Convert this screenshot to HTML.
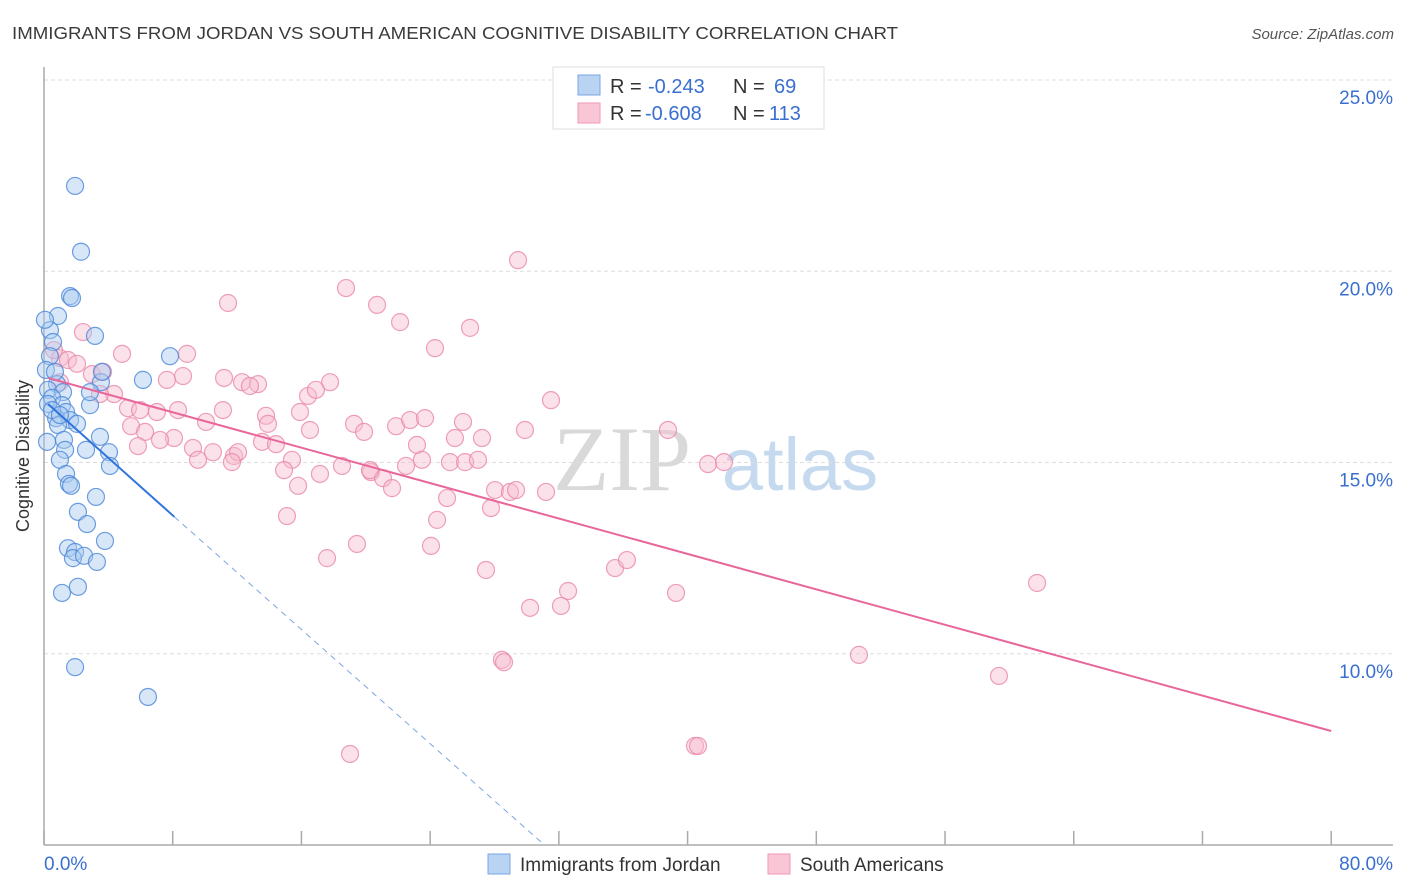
<!DOCTYPE html>
<html><head><meta charset="utf-8"><style>
body{margin:0;background:#fff;font-family:"Liberation Sans",sans-serif}
svg{display:block}
</style></head><body>
<svg id="c" width="1406" height="892">
<text x="12" y="39" font-size="17.5" fill="#3a3a3a" textLength="886" lengthAdjust="spacingAndGlyphs">IMMIGRANTS FROM JORDAN VS SOUTH AMERICAN COGNITIVE DISABILITY CORRELATION CHART</text>
<text x="1394" y="39" font-size="15" fill="#555" font-style="italic" text-anchor="end">Source: ZipAtlas.com</text>
<text x="29" y="456" font-size="18" fill="#333" text-anchor="middle" transform="rotate(-90 29 456)">Cognitive Disability</text>
<g>
<text x="622" y="490" font-size="92" fill="#d9d9d9" font-family="Liberation Serif,serif" text-anchor="middle">ZIP</text>
<text x="800" y="490" font-size="74" fill="#c5d9ef" text-anchor="middle">atlas</text>
</g>
<g id="grid"></g><g id="axes"></g><g id="marks"></g>
<g>
<rect x="553" y="67" width="271" height="62" fill="#fff" stroke="#ddd"/>
<rect x="578" y="75" width="22" height="20" fill="#b9d3f3" stroke="#7aa6e0"/>
<rect x="578" y="103" width="22" height="20" fill="#f9c6d6" stroke="#ee9ab6"/>
<g font-size="20">
<text x="610" y="93" fill="#333">R =</text><text x="648" y="93" fill="#3a6fd0">-0.243</text>
<text x="733" y="93" fill="#333">N =</text><text x="774" y="93" fill="#3a6fd0">69</text></g>
<g font-size="20">
<text x="610" y="120" fill="#333">R =</text><text x="645" y="120" fill="#3a6fd0">-0.608</text>
<text x="733" y="120" fill="#333">N =</text><text x="769" y="120" fill="#3a6fd0">113</text></g>
</g>
<g>
<rect x="488" y="854" width="22" height="20" fill="#b9d3f3" stroke="#7aa6e0"/>
<text x="520" y="871" font-size="19" fill="#333">Immigrants from Jordan</text>
<rect x="768" y="854" width="22" height="20" fill="#f9c6d6" stroke="#ee9ab6"/>
<text x="800" y="871" font-size="19" fill="#333">South Americans</text>
</g>
</svg>
<script>
const yTicks=[10,15,20,25];
const yTickLabels=["10.0%","15.0%","20.0%","25.0%"];
const xTickLabels=["0.0%","80.0%"];
const blueX=[1.93,2.30,1.62,1.74,0.87,0.37,3.17,0.56,7.83,6.15,3.54,0.81,0.25,1.18,0.5,2.86,1.12,1.37,0.75,1.62,2.05,0.87,3.48,1.24,0.19,1.31,2.61,4.04,0.99,4.10,1.37,1.55,1.68,3.23,2.11,2.67,3.79,1.49,1.93,1.80,2.49,3.29,1.12,2.11,1.93,6.46,0.06,0.37,0.12,0.68,3.60,2.86,0.25,0.5,0.99];
const blueY=[22.23,20.51,19.35,19.30,18.83,18.46,18.31,18.15,17.78,17.16,17.10,17.05,16.90,16.84,16.69,16.50,16.50,16.32,16.16,16.11,16.01,15.98,15.67,15.59,15.54,15.33,15.33,15.27,15.07,14.91,14.70,14.44,14.39,14.10,13.71,13.39,12.95,12.76,12.66,12.50,12.56,12.40,11.59,11.75,9.65,8.87,18.73,17.78,17.42,17.37,17.37,16.84,16.53,16.37,16.24];
const pinkX=[11.44,18.77,20.70,22.13,26.48,29.46,24.30,2.42,4.85,8.89,0.99,1.49,2.98,3.67,4.35,5.22,7.64,8.64,11.19,12.31,13.30,12.80,16.41,16.90,17.78,11.12,10.07,7.02,8.33,13.80,13.92,19.27,19.89,21.88,22.75,23.68,26.04,31.51,29.89,38.78,15.91,16.53,5.41,6.28,8.08,9.26,9.57,10.50,11.81,12.06,13.55,14.42,15.41,14.92,17.15,18.52,20.32,21.07,22.50,23.18,23.49,25.23,26.17,26.97,25.54,27.22,20.26,15.79,21.63,25.05,28.03,28.96,29.34,31.20,27.78,24.43,15.10,19.45,17.59,24.05,27.47,35.49,36.23,32.57,30.21,32.13,39.28,61.72,41.27,42.26,50.65,59.35,28.46,28.59,19.02,40.46,40.65,5.84,7.21,3.48,0.62,0.99,2.05,5.97,11.68];
const pinkY=[19.17,19.56,19.12,18.67,18.52,20.29,17.99,18.41,17.84,17.84,17.73,17.68,17.31,17.37,16.79,16.42,17.16,17.26,17.21,17.10,17.05,17.00,16.74,16.90,17.10,16.37,16.06,16.32,16.37,16.22,16.01,16.01,15.80,15.95,16.11,16.16,16.06,16.63,15.85,15.85,16.32,15.85,15.95,15.80,15.64,15.38,15.07,15.27,15.17,15.27,15.54,15.48,15.07,14.80,14.70,14.91,14.75,14.59,14.91,15.46,15.07,15.01,15.01,15.07,15.64,15.64,14.80,14.39,14.33,14.07,14.28,14.23,14.28,14.23,13.81,13.50,13.60,12.87,12.50,12.82,12.19,12.24,12.45,11.64,11.20,11.25,11.59,11.85,14.96,15.01,9.97,9.42,9.84,9.78,7.38,7.59,7.59,15.43,15.59,16.79,17.94,17.10,17.58,16.37,15.01];
const blueTrend=[[0.25,16.53],[8.1,13.58]];
const blueDash=[[8.1,13.58],[31.1,5.0]];
const pinkTrend=[[0.25,17.21],[80,7.98]];

const X0=44,XS=16.09,Y0=80,YS=38.25;
const sx=v=>X0+v*XS, sy=v=>Y0+(25-v)*YS;
const NS="http://www.w3.org/2000/svg";
function mk(parent,tag,a){const e=document.createElementNS(NS,tag);for(const k in a)e.setAttribute(k,a[k]);document.getElementById(parent).appendChild(e);return e;}
yTicks.forEach((t,i)=>{
  const g=mk('grid','line',{x1:44,x2:1393,y1:sy(t),y2:sy(t),stroke:'#ddd','stroke-dasharray':'4,3'});
  
  
  const l=mk('grid','text',{x:1393,y:sy(t)+24,'font-size':19,fill:'#3a6fd0','text-anchor':'end'});
  l.textContent=yTickLabels[i];
  
  
});
const ax=mk('axes','line',{x1:44,x2:44,y1:67,y2:845,stroke:'#aaa','stroke-width':1.5});


const bx=mk('axes','line',{x1:44,x2:1393,y1:845,y2:845,stroke:'#aaa','stroke-width':1.5});


for(let i=0;i<=10;i++){
  const t=mk('axes','line',{x1:sx(i*8),x2:sx(i*8),y1:831,y2:845,stroke:'#aaa','stroke-width':1.5});
  
  
}
const xl0=mk('axes','text',{x:44,y:870,'font-size':19,fill:'#3a6fd0'});xl0.textContent=xTickLabels[0];


const xl1=mk('axes','text',{x:1393,y:870,'font-size':19,fill:'#3a6fd0','text-anchor':'end'});xl1.textContent=xTickLabels[1];


function pts(xs,ys,fill,stroke,name){
  const n=Math.min(xs.length,ys.length);
  for(let i=0;i<n;i++){
    const c=mk('marks','circle',{cx:sx(xs[i]),cy:sy(ys[i]),r:8.5,fill:fill,'fill-opacity':0.45,stroke:stroke,'stroke-width':1.2,'stroke-opacity':0.8});
    
    
  }
}
pts(pinkX,pinkY,'#f7bccf','#ea88a8','point-south-american');
pts(blueX,blueY,'#a9c9f0','#4a86d8','point-jordan');
function line(p,stroke,name,dash){
  const l=mk('marks','line',{x1:sx(p[0][0]),y1:sy(p[0][1]),x2:sx(p[1][0]),y2:sy(p[1][1]),stroke:stroke,'stroke-width':dash?1:2});
  if(dash)l.setAttribute('stroke-dasharray','6,5');
  
  
}
line(pinkTrend,'#e8669a','trend-line-south-american');
line(blueTrend,'#2f74dd','trend-line-jordan');
line(blueDash,'#7aa6e0','trend-line-jordan-extension',true);
</script>
</body></html>
